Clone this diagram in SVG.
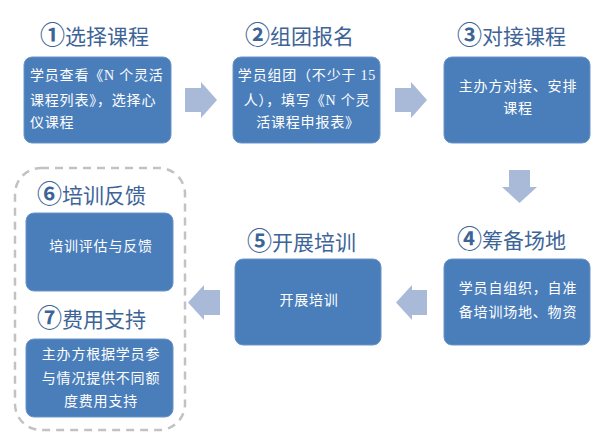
<svg xmlns="http://www.w3.org/2000/svg" width="600" height="448" viewBox="0 0 600 448">
<style>
.box{fill:#4a7ebb;stroke:#6a94c8;stroke-width:1}
.title{font-family:"Noto Sans CJK SC","Liberation Sans",sans-serif;font-size:21px;fill:#3d6497}
.num{font-size:25px;font-weight:bold}
.txt{font-family:"Liberation Serif","Noto Sans CJK SC",serif;font-size:14px;fill:#ffffff;letter-spacing:0.8px}
.arr{fill:#a9bad9}
</style>
<rect width="600" height="448" fill="#ffffff"/>
<g id="connectors">
<path class="arr" d="M185,88 H201 V82 L217,100 L201,118 V112 H185 Z"/>
<path class="arr" d="M395,88 H411 V82 L427,100 L411,118 V112 H395 Z"/>
<path class="arr" d="M509,170 H530 V187 H537 L519.5,203 L502,187 H509 Z"/>
<path class="arr" d="M427,290 H412 V285 L396,302.5 L412,320 V315 H427 Z"/>
<path class="arr" d="M220,290 H204 V285 L188,302.5 L204,320 V315 H220 Z"/>
</g>
<rect id="group" x="15" y="168" width="170" height="262" rx="26" fill="none" stroke="#c2c2c2" stroke-width="2.5" stroke-dasharray="8 6"/>
<g id="step1">
<text class="title" x="40" y="44"><tspan class="num">①</tspan>选择课程</text>
<rect class="box" x="24" y="57" width="147" height="86" rx="8"/>
<text class="txt" x="30" y="80">学员查看《N 个灵活</text>
<text class="txt" x="30" y="105">课程列表》，选择心</text>
<text class="txt" x="30" y="127">仪课程</text>
</g>
<g id="step2">
<text class="title" x="245" y="44"><tspan class="num">②</tspan>组团报名</text>
<rect class="box" x="233" y="57" width="147" height="86" rx="8"/>
<text class="txt" x="307" y="80" text-anchor="middle">学员组团（不少于 15</text>
<text class="txt" x="307" y="105" text-anchor="middle">人），填写《N 个灵</text>
<text class="txt" x="308" y="127" text-anchor="middle">活课程申报表》</text>
</g>
<g id="step3">
<text class="title" x="457" y="44"><tspan class="num">③</tspan>对接课程</text>
<rect class="box" x="444" y="57" width="146" height="86" rx="8"/>
<text class="txt" x="518" y="91" text-anchor="middle">主办方对接、安排</text>
<text class="txt" x="518" y="113" text-anchor="middle">课程</text>
</g>
<g id="step4">
<text class="title" x="457" y="248"><tspan class="num">④</tspan>筹备场地</text>
<rect class="box" x="444" y="259" width="146" height="86" rx="8"/>
<text class="txt" x="518" y="293" text-anchor="middle">学员自组织，自准</text>
<text class="txt" x="518" y="317" text-anchor="middle">备培训场地、物资</text>
</g>
<g id="step5">
<text class="title" x="247" y="250"><tspan class="num">⑤</tspan>开展培训</text>
<rect class="box" x="235" y="259" width="146" height="86" rx="8"/>
<text class="txt" x="309" y="305" text-anchor="middle">开展培训</text>
</g>
<g id="step6">
<text class="title" x="37" y="203"><tspan class="num">⑥</tspan>培训反馈</text>
<rect class="box" x="26" y="213" width="147" height="78" rx="8"/>
<text class="txt" x="101" y="251" text-anchor="middle">培训评估与反馈</text>
</g>
<g id="step7">
<text class="title" x="37" y="327"><tspan class="num">⑦</tspan>费用支持</text>
<rect class="box" x="26" y="339" width="147" height="78" rx="8"/>
<text class="txt" x="101" y="359" text-anchor="middle">主办方根据学员参</text>
<text class="txt" x="101" y="383" text-anchor="middle">与情况提供不同额</text>
<text class="txt" x="101" y="406" text-anchor="middle">度费用支持</text>
</g>
</svg>
